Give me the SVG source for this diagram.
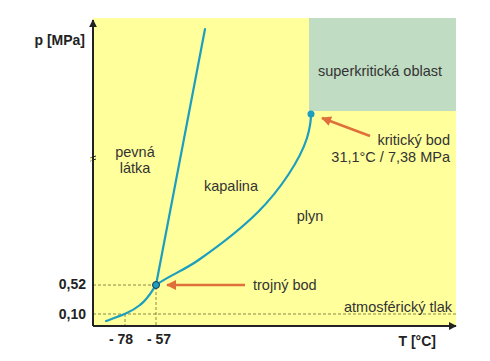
<svg xmlns="http://www.w3.org/2000/svg" width="490" height="361" viewBox="0 0 490 361">
<style>
text{font-family:"Liberation Sans",Arial,sans-serif;fill:#333;font-size:14.5px}
.b{font-weight:bold;font-size:14px;fill:#222}
.curve{fill:none;stroke:#1b9ec0;stroke-width:2.2;stroke-linecap:round}
.dash{stroke:#6a6a30;stroke-width:0.8;stroke-dasharray:3 2;fill:none}
.orange{stroke:#e0703a;stroke-width:2.5;fill:none}
</style>
<defs>
<marker id="ah" viewBox="0 0 10 10" refX="9" refY="5" markerWidth="4" markerHeight="4" orient="auto"><path d="M0,0L10,5L0,10z" fill="#222"/></marker>
<marker id="oh" viewBox="0 0 10 10" refX="9" refY="5" markerWidth="4.4" markerHeight="4" orient="auto"><path d="M0,0L10,5L0,10z" fill="#e0703a"/></marker>
</defs>
<g id="background">
<rect x="93" y="18" width="363" height="308" fill="#ffff9c"/>
<rect x="309" y="18" width="147" height="93" fill="#c0dcc2"/>
</g>
<g id="guides">
<path class="dash" d="M93,285H156V326"/>
<path class="dash" d="M93,314H456" stroke-dasharray="1.5 1.5"/>
<path class="dash" d="M125,314V326"/>
</g>
<g id="connectors">
<path class="curve" d="M156,285L205,29"/>
<path class="curve" d="M106,321C120,316 130,313 140,305C148,299 152,291 156,285"/>
<path class="curve" d="M156,285C170,275 185,270 200,259C220,245 240,230 258,212C280,190 300,160 307,138C310,128 311,118 311,114"/>
<path class="orange" d="M245,285H167" marker-end="url(#oh)"/>
<path class="orange" d="M370,136L322,118" marker-end="url(#oh)"/>
</g>
<g id="axes">
<path d="M93,326V20" stroke="#222" stroke-width="2" marker-end="url(#ah)"/>
<path d="M93,326H456" stroke="#222" stroke-width="2" marker-end="url(#ah)"/>
<path d="M90,161l6,-2M90,158l6,-2" stroke="#222" stroke-width="1"/>
<path d="M91,157.5v3.5" stroke="#ffff9c" stroke-width="1.5"/>
</g>
<g id="triple-point"><circle cx="156" cy="285" r="3.5" fill="#1b9ec0" stroke="#1a3a50" stroke-width="1"/></g>
<g id="critical-point"><circle cx="311" cy="114" r="3.5" fill="#1b9ec0"/></g>
<g id="labels">
<text class="b" x="85" y="45" text-anchor="end">p [MPa]</text>
<text class="b" x="436" y="346" text-anchor="end">T [°C]</text>
<text class="b" x="86" y="289" text-anchor="end">0,52</text>
<text class="b" x="86" y="319" text-anchor="end">0,10</text>
<text class="b" x="121" y="344" text-anchor="middle">- 78</text>
<text class="b" x="159" y="344" text-anchor="middle">- 57</text>
<text x="380" y="76" text-anchor="middle">superkritická oblast</text>
<text x="450" y="145" text-anchor="end">kritický bod</text>
<text x="450" y="162" text-anchor="end">31,1°C / 7,38 MPa</text>
<text x="135" y="157" text-anchor="middle">pevná</text>
<text x="135" y="173" text-anchor="middle">látka</text>
<text x="231" y="191" text-anchor="middle">kapalina</text>
<text x="310" y="221" text-anchor="middle">plyn</text>
<text x="253" y="290">trojný bod</text>
<text x="452" y="312" text-anchor="end">atmosférický tlak</text>
</g>
</svg>
